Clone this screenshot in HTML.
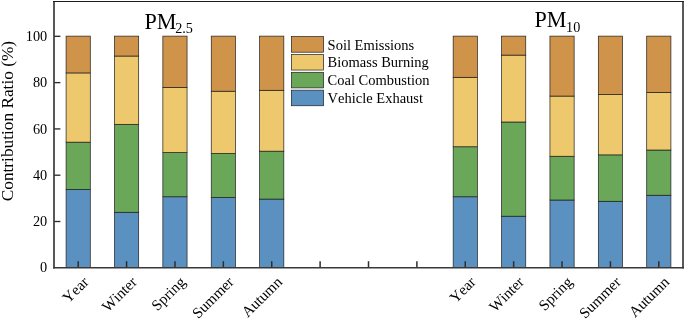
<!DOCTYPE html>
<html><head><meta charset="utf-8"><title>Contribution Ratio</title>
<style>html,body{margin:0;padding:0;background:#fff}svg{display:block}</style></head>
<body>
<svg width="685" height="320" viewBox="0 0 685 320" font-family="'Liberation Serif', serif" fill="#000" style="font-kerning:none">
<rect width="685" height="320" fill="#fff"/>
<rect x="66.09" y="189.36" width="24.2" height="78.24" fill="#5b91c1" stroke="#1e1e1e" stroke-width="0.7"/>
<rect x="66.09" y="142.14" width="24.2" height="47.22" fill="#6aa758" stroke="#1e1e1e" stroke-width="0.7"/>
<rect x="66.09" y="72.93" width="24.2" height="69.21" fill="#eec86c" stroke="#1e1e1e" stroke-width="0.7"/>
<rect x="66.09" y="36.12" width="24.2" height="36.81" fill="#d0934a" stroke="#1e1e1e" stroke-width="0.7"/>
<rect x="114.48" y="212.28" width="24.2" height="55.32" fill="#5b91c1" stroke="#1e1e1e" stroke-width="0.7"/>
<rect x="114.48" y="124.31" width="24.2" height="87.96" fill="#6aa758" stroke="#1e1e1e" stroke-width="0.7"/>
<rect x="114.48" y="56.03" width="24.2" height="68.29" fill="#eec86c" stroke="#1e1e1e" stroke-width="0.7"/>
<rect x="114.48" y="36.12" width="24.2" height="19.91" fill="#d0934a" stroke="#1e1e1e" stroke-width="0.7"/>
<rect x="162.86" y="196.77" width="24.2" height="70.83" fill="#5b91c1" stroke="#1e1e1e" stroke-width="0.7"/>
<rect x="162.86" y="152.56" width="24.2" height="44.21" fill="#6aa758" stroke="#1e1e1e" stroke-width="0.7"/>
<rect x="162.86" y="87.39" width="24.2" height="65.16" fill="#eec86c" stroke="#1e1e1e" stroke-width="0.7"/>
<rect x="162.86" y="36.12" width="24.2" height="51.27" fill="#d0934a" stroke="#1e1e1e" stroke-width="0.7"/>
<rect x="211.25" y="197.46" width="24.2" height="70.14" fill="#5b91c1" stroke="#1e1e1e" stroke-width="0.7"/>
<rect x="211.25" y="153.48" width="24.2" height="43.98" fill="#6aa758" stroke="#1e1e1e" stroke-width="0.7"/>
<rect x="211.25" y="91.21" width="24.2" height="62.27" fill="#eec86c" stroke="#1e1e1e" stroke-width="0.7"/>
<rect x="211.25" y="36.12" width="24.2" height="55.09" fill="#d0934a" stroke="#1e1e1e" stroke-width="0.7"/>
<rect x="259.63" y="199.08" width="24.2" height="68.52" fill="#5b91c1" stroke="#1e1e1e" stroke-width="0.7"/>
<rect x="259.63" y="151.17" width="24.2" height="47.92" fill="#6aa758" stroke="#1e1e1e" stroke-width="0.7"/>
<rect x="259.63" y="90.29" width="24.2" height="60.88" fill="#eec86c" stroke="#1e1e1e" stroke-width="0.7"/>
<rect x="259.63" y="36.12" width="24.2" height="54.17" fill="#d0934a" stroke="#1e1e1e" stroke-width="0.7"/>
<rect x="453.17" y="196.77" width="24.2" height="70.83" fill="#5b91c1" stroke="#1e1e1e" stroke-width="0.7"/>
<rect x="453.17" y="146.77" width="24.2" height="50.00" fill="#6aa758" stroke="#1e1e1e" stroke-width="0.7"/>
<rect x="453.17" y="77.32" width="24.2" height="69.44" fill="#eec86c" stroke="#1e1e1e" stroke-width="0.7"/>
<rect x="453.17" y="36.12" width="24.2" height="41.20" fill="#d0934a" stroke="#1e1e1e" stroke-width="0.7"/>
<rect x="501.55" y="216.21" width="24.2" height="51.39" fill="#5b91c1" stroke="#1e1e1e" stroke-width="0.7"/>
<rect x="501.55" y="122.00" width="24.2" height="94.21" fill="#6aa758" stroke="#1e1e1e" stroke-width="0.7"/>
<rect x="501.55" y="55.10" width="24.2" height="66.90" fill="#eec86c" stroke="#1e1e1e" stroke-width="0.7"/>
<rect x="501.55" y="36.12" width="24.2" height="18.98" fill="#d0934a" stroke="#1e1e1e" stroke-width="0.7"/>
<rect x="549.94" y="200.01" width="24.2" height="67.59" fill="#5b91c1" stroke="#1e1e1e" stroke-width="0.7"/>
<rect x="549.94" y="156.26" width="24.2" height="43.75" fill="#6aa758" stroke="#1e1e1e" stroke-width="0.7"/>
<rect x="549.94" y="96.07" width="24.2" height="60.18" fill="#eec86c" stroke="#1e1e1e" stroke-width="0.7"/>
<rect x="549.94" y="36.12" width="24.2" height="59.95" fill="#d0934a" stroke="#1e1e1e" stroke-width="0.7"/>
<rect x="598.32" y="201.28" width="24.2" height="66.32" fill="#5b91c1" stroke="#1e1e1e" stroke-width="0.7"/>
<rect x="598.32" y="154.87" width="24.2" height="46.41" fill="#6aa758" stroke="#1e1e1e" stroke-width="0.7"/>
<rect x="598.32" y="94.45" width="24.2" height="60.42" fill="#eec86c" stroke="#1e1e1e" stroke-width="0.7"/>
<rect x="598.32" y="36.12" width="24.2" height="58.33" fill="#d0934a" stroke="#1e1e1e" stroke-width="0.7"/>
<rect x="646.71" y="195.26" width="24.2" height="72.34" fill="#5b91c1" stroke="#1e1e1e" stroke-width="0.7"/>
<rect x="646.71" y="150.01" width="24.2" height="45.25" fill="#6aa758" stroke="#1e1e1e" stroke-width="0.7"/>
<rect x="646.71" y="92.37" width="24.2" height="57.64" fill="#eec86c" stroke="#1e1e1e" stroke-width="0.7"/>
<rect x="646.71" y="36.12" width="24.2" height="56.25" fill="#d0934a" stroke="#1e1e1e" stroke-width="0.7"/>
<line x1="78.19" x2="78.19" y1="267.6" y2="261.20000000000005" stroke="#2e2e2e" stroke-width="1.5"/>
<line x1="126.58" x2="126.58" y1="267.6" y2="261.20000000000005" stroke="#2e2e2e" stroke-width="1.5"/>
<line x1="174.96" x2="174.96" y1="267.6" y2="261.20000000000005" stroke="#2e2e2e" stroke-width="1.5"/>
<line x1="223.35" x2="223.35" y1="267.6" y2="261.20000000000005" stroke="#2e2e2e" stroke-width="1.5"/>
<line x1="271.73" x2="271.73" y1="267.6" y2="261.20000000000005" stroke="#2e2e2e" stroke-width="1.5"/>
<line x1="320.12" x2="320.12" y1="267.6" y2="261.20000000000005" stroke="#2e2e2e" stroke-width="1.5"/>
<line x1="368.50" x2="368.50" y1="267.6" y2="261.20000000000005" stroke="#2e2e2e" stroke-width="1.5"/>
<line x1="416.88" x2="416.88" y1="267.6" y2="261.20000000000005" stroke="#2e2e2e" stroke-width="1.5"/>
<line x1="465.27" x2="465.27" y1="267.6" y2="261.20000000000005" stroke="#2e2e2e" stroke-width="1.5"/>
<line x1="513.65" x2="513.65" y1="267.6" y2="261.20000000000005" stroke="#2e2e2e" stroke-width="1.5"/>
<line x1="562.04" x2="562.04" y1="267.6" y2="261.20000000000005" stroke="#2e2e2e" stroke-width="1.5"/>
<line x1="610.42" x2="610.42" y1="267.6" y2="261.20000000000005" stroke="#2e2e2e" stroke-width="1.5"/>
<line x1="658.81" x2="658.81" y1="267.6" y2="261.20000000000005" stroke="#2e2e2e" stroke-width="1.5"/>
<text x="47.2" y="272.40" font-size="14.3" text-anchor="end">0</text>
<line x1="54.0" x2="60.4" y1="221.50" y2="221.50" stroke="#2e2e2e" stroke-width="1.35"/>
<text x="47.2" y="226.10" font-size="14.3" text-anchor="end">20</text>
<line x1="54.0" x2="60.4" y1="175.21" y2="175.21" stroke="#2e2e2e" stroke-width="1.35"/>
<text x="47.2" y="179.81" font-size="14.3" text-anchor="end">40</text>
<line x1="54.0" x2="60.4" y1="128.91" y2="128.91" stroke="#2e2e2e" stroke-width="1.35"/>
<text x="47.2" y="133.51" font-size="14.3" text-anchor="end">60</text>
<line x1="54.0" x2="60.4" y1="82.62" y2="82.62" stroke="#2e2e2e" stroke-width="1.35"/>
<text x="47.2" y="87.22" font-size="14.3" text-anchor="end">80</text>
<line x1="54.0" x2="60.4" y1="36.32" y2="36.32" stroke="#2e2e2e" stroke-width="1.35"/>
<text x="47.2" y="40.92" font-size="14.3" text-anchor="end">100</text>
<path d="M54.0 0.8999999999999999V268.5M683.0 268.5V0.8999999999999999" fill="none" stroke="#3c3c3c" stroke-width="1.7"/>
<line x1="53.1" x2="683.9" y1="267.75" y2="267.75" stroke="#383838" stroke-width="1.7"/>
<line x1="53.1" x2="683.9" y1="1.45" y2="1.45" stroke="#1c1c1c" stroke-width="1.1"/>
<text transform="translate(89.49,282.90) rotate(-45)" font-size="15.2" text-anchor="end">Year</text>
<text transform="translate(137.88,282.90) rotate(-45)" font-size="15.2" text-anchor="end">Winter</text>
<text transform="translate(186.26,282.90) rotate(-45)" font-size="15.2" text-anchor="end">Spring</text>
<text transform="translate(234.65,282.90) rotate(-45)" font-size="15.2" text-anchor="end">Summer</text>
<text transform="translate(283.03,282.90) rotate(-45)" font-size="15.2" text-anchor="end">Autumn</text>
<text transform="translate(476.57,282.90) rotate(-45)" font-size="15.2" text-anchor="end">Year</text>
<text transform="translate(524.95,282.90) rotate(-45)" font-size="15.2" text-anchor="end">Winter</text>
<text transform="translate(573.34,282.90) rotate(-45)" font-size="15.2" text-anchor="end">Spring</text>
<text transform="translate(621.72,282.90) rotate(-45)" font-size="15.2" text-anchor="end">Summer</text>
<text transform="translate(670.11,282.90) rotate(-45)" font-size="15.2" text-anchor="end">Autumn</text>
<text transform="translate(13.3,121.1) rotate(-90)" font-size="17.3" text-anchor="middle">Contribution Ratio (%)</text>
<text x="144.5" y="28.6" font-size="22.1">PM<tspan font-size="14.2" dx="-1.3" dy="4.7">2.5</tspan></text>
<text x="534.5" y="27.0" font-size="22.1">PM<tspan font-size="14.2" dx="-0.4" dy="5.4">10</tspan></text>
<rect x="291.4" y="36.60" width="32.2" height="15.6" fill="#d0934a" stroke="#1e1e1e" stroke-width="0.7"/>
<text x="327.6" y="49.50" font-size="14.5">Soil Emissions</text>
<rect x="291.4" y="54.45" width="32.2" height="15.6" fill="#eec86c" stroke="#1e1e1e" stroke-width="0.7"/>
<text x="327.6" y="67.35" font-size="14.5">Biomass Burning</text>
<rect x="291.4" y="72.30" width="32.2" height="15.6" fill="#6aa758" stroke="#1e1e1e" stroke-width="0.7"/>
<text x="327.6" y="85.20" font-size="14.5">Coal Combustion</text>
<rect x="291.4" y="90.15" width="32.2" height="15.6" fill="#5b91c1" stroke="#1e1e1e" stroke-width="0.7"/>
<text x="327.6" y="103.05" font-size="14.5">Vehicle Exhaust</text>
</svg>
</body></html>
